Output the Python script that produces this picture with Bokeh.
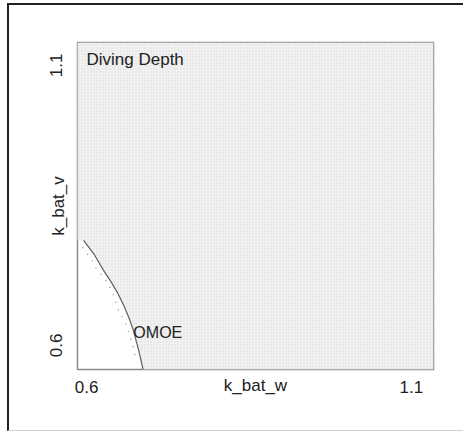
from bokeh.plotting import figure
from bokeh.models import FixedTicker, Range1d, Label
from bokeh.embed import file_html
from bokeh.resources import INLINE

# ---- data ----
x_ticks = [0.6, 1.1]
y_ticks = [0.6, 1.1]
x_label = "k_bat_w"
y_label = "k_bat_v"
title_text = "Diving Depth"
omoe_text = "OMOE"

# solid constraint boundary (k_bat_w, k_bat_v)
bound_w = [0.5954, 0.612, 0.626, 0.638, 0.648, 0.657, 0.665, 0.672, 0.680, 0.687]
bound_v = [0.7875, 0.762, 0.734, 0.713, 0.693, 0.672, 0.650, 0.627, 0.592, 0.557]

# dotted boundary
dot_w = [0.5938, 0.6062, 0.6138, 0.6323, 0.640, 0.6492, 0.660, 0.6708, 0.6754]
dot_v = [0.775, 0.7554, 0.7393, 0.7125, 0.6929, 0.6625, 0.6393, 0.6036, 0.5768]

# OMOE label position
omoe_w, omoe_v = 0.672, 0.623

x_min, x_max = 0.586, 1.134
y_min, y_max = 0.557, 1.141

FONT = "Liberation Sans"

p = figure(width=456, height=428, output_backend="svg", toolbar_location=None,
           x_range=Range1d(x_min, x_max), y_range=Range1d(y_min, y_max),
           min_border_left=68, min_border_right=32, min_border_top=37, min_border_bottom=64)
p.styles = {"margin-left": "7px", "margin-top": "3px",
            "border-left": "2px solid #222", "border-top": "2px solid #222",
            "border-bottom": "1px solid #cfcfcf"}

p.grid.visible = False
p.outline_line_color = "#8a8a8a"
p.outline_line_width = 1.5
p.background_fill_color = "white"
p.border_fill_color = "white"

# shaded feasible region
poly_x = [x_min] + bound_w + [x_max, x_max, x_min]
poly_y = [bound_v[0]] + bound_v + [y_min, y_max, y_max]
p.patch(poly_x, poly_y, fill_color="#e9e9e9", line_color=None,
        hatch_pattern="cross", hatch_color="#f7f7f7", hatch_scale=3, hatch_weight=0.6)

p.line(bound_w, bound_v, line_color="#606060", line_width=1.2)
p.line(dot_w, dot_v, line_color="#8a8a8a", line_width=1.2, line_dash="1 7")

for ax in (p.xaxis[0], p.yaxis[0]):
    ax.axis_line_color = None
    ax.major_tick_line_color = None
    ax.minor_tick_line_color = None
    ax.major_label_text_font = FONT
    ax.major_label_text_font_size = "17px"
    ax.major_label_text_color = "#222"
    ax.axis_label_text_font = FONT
    ax.axis_label_text_font_size = "17px"
    ax.axis_label_text_font_style = "normal"
    ax.axis_label_text_color = "#222"

p.xaxis.ticker = FixedTicker(ticks=x_ticks)
p.yaxis.ticker = FixedTicker(ticks=y_ticks)
p.xaxis.axis_label = x_label
p.yaxis.axis_label = y_label
p.xaxis.major_label_standoff = 5
p.xaxis.axis_label_standoff = -20
p.yaxis.major_label_orientation = "vertical"
p.yaxis.major_label_standoff = 9
p.yaxis.axis_label_standoff = -20

p.add_layout(Label(x=x_min, y=y_max, x_offset=9, y_offset=-7, text=title_text,
                   text_font=FONT, text_font_size="17px", text_color="#222",
                   text_align="left", text_baseline="top"))
p.add_layout(Label(x=omoe_w, y=omoe_v, text=omoe_text,
                   text_font=FONT, text_font_size="16px", text_color="#222",
                   text_align="left", text_baseline="alphabetic"))

open("out.html", "w").write(file_html(p, INLINE))
